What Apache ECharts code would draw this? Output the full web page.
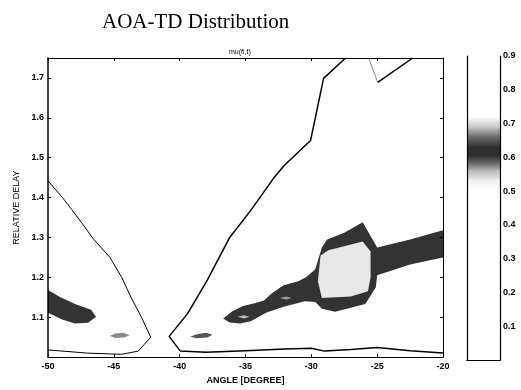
<!DOCTYPE html>
<html><head><meta charset="utf-8">
<script src="https://cdn.jsdelivr.net/npm/echarts@6/dist/echarts.min.js"></script>
<style>html,body{margin:0;padding:0;background:#fff}#c{width:521px;height:390px}</style>
</head><body><div id="c"></div><script>
// ---- data (angle [deg], relative delay) ----
const titleText = 'AOA-TD Distribution';
const subTitle = 'mu(fi,t)';
const xLabel = 'ANGLE [DEGREE]';
const yLabel = 'RELATIVE DELAY';
const angleRange = [-50, -20];
const delayRange = [1.0, 1.75];
const colorbarRange = [0, 0.9];

// thin low-level contour lines
const leftContour = [[-50,1.442],[-48.9,1.40],[-48.2,1.37],[-47.4,1.335],[-46.6,1.298],[-45.3,1.25],[-44.4,1.20],[-43.7,1.15],[-42.9,1.10],[-42.2,1.05],[-43.15,1.015],[-44.4,1.007],[-47,1.01],[-50,1.018]];
const rightContour = [[-27.4,1.75],[-29.07,1.699],[-30.06,1.543],[-32.1,1.479],[-32.9,1.447],[-34.6,1.368],[-36.2,1.30],[-37.9,1.193],[-39.4,1.109],[-40.8,1.052],[-39.95,1.015],[-38,1.012],[-35,1.016],[-32,1.02],[-30,1.022],[-29,1.015],[-27,1.019],[-25,1.024],[-22.5,1.016],[-20,1.01]];
const topVLeft = [[-25.65,1.75],[-24.96,1.689]];
const topVRight = [[-24.96,1.689],[-22.3,1.75]];

// dense (dark) regions around level ~0.6
const darkBand = [[-36.7,1.097],[-36.0,1.115],[-35.2,1.128],[-34.3,1.135],[-33.6,1.142],[-33.0,1.16],[-32.1,1.18],[-31.0,1.19],[-30.4,1.20],[-29.7,1.22],[-29.2,1.275],[-28.8,1.295],[-27.5,1.312],[-26.1,1.338],[-25.0,1.275],[-22.5,1.295],[-20,1.318],[-20,1.25],[-22.5,1.232],[-25.0,1.205],[-25.1,1.175],[-25.9,1.133],[-28.2,1.114],[-29.2,1.121],[-29.7,1.138],[-30.5,1.14],[-32.1,1.126],[-33.4,1.112],[-34.6,1.09],[-35.4,1.084],[-36.2,1.087]];
const hexInner = [[-29.3,1.255],[-28.7,1.268],[-26.1,1.29],[-25.5,1.265],[-25.5,1.2],[-25.7,1.165],[-27.0,1.152],[-29.2,1.148],[-29.5,1.19]];
const leftBlob = [[-50,1.168],[-49.09,1.151],[-47.95,1.133],[-46.73,1.119],[-46.35,1.101],[-46.96,1.086],[-47.95,1.084],[-48.93,1.094],[-50,1.111]];
const smallBlobA = [[-45.3,1.053],[-44.9,1.059],[-44.3,1.061],[-43.8,1.055],[-44.2,1.049],[-44.9,1.048]];
const smallBlobB = [[-39.2,1.051],[-38.7,1.057],[-38.0,1.061],[-37.5,1.056],[-37.9,1.049],[-38.7,1.047]];
const lightSpotA = [[-35.6,1.101],[-35.1,1.105],[-34.7,1.101],[-35.1,1.097]];
const lightSpotB = [[-32.4,1.148],[-31.9,1.152],[-31.5,1.148],[-31.9,1.144]];

// colour scale (value -> gray)
const cbStops = [0.50, 0.53, 0.56, 0.58, 0.605, 0.63, 0.66, 0.69, 0.72, 0.9];
const cbGrays = ['#ffffff','#f0f0f0','#b8b8b8','#707070','#2e2e2e','#303030','#6a6a6a','#c8c8c8','#ffffff','#ffffff'];

// ---- chart ----
const chart = echarts.init(document.getElementById('c'));
const font = "'Liberation Sans', Arial, sans-serif";

function polySeries(pts, fill, z) {
  return {
    type: 'custom', xAxisIndex: 0, yAxisIndex: 0, z: z, silent: true, clip: true,
    data: pts,
    renderItem: function (params, api) {
      if (params.dataIndex !== 0) return;
      return { type: 'polygon', shape: { points: pts.map(p => api.coord(p)) }, style: { fill: fill } };
    }
  };
}
function lineSeries(pts, color, width) {
  return { type: 'line', xAxisIndex: 0, yAxisIndex: 0, data: pts, showSymbol: false, silent: true, z: 5,
    lineStyle: { color: color, width: width } };
}

const cbGradient = new echarts.graphic.LinearGradient(0, 0, 0, 1,
  cbStops.map((v, i) => ({ offset: (colorbarRange[1] - v) / (colorbarRange[1] - colorbarRange[0]), color: cbGrays[i] })).reverse());

const lbl = { color: '#000', fontFamily: font, fontSize: 9, fontWeight: 'bold' };

chart.setOption({
  animation: false,
  backgroundColor: '#fff',
  title: [
    { text: titleText, left: 97, top: 7, textStyle: { fontFamily: "'Liberation Serif','Times New Roman',serif", fontSize: 21, fontWeight: 'normal', color: '#000' } },
    { text: subTitle, left: 224, top: 44, textStyle: { fontFamily: font, fontSize: 7, fontWeight: 'normal', color: '#000' } }
  ],
  grid: [
    { left: 48, right: 78, top: 58, bottom: 30 },
    { left: 467, right: 21, top: 56, bottom: 30 }
  ],
  xAxis: [
    { type: 'value', gridIndex: 0, z: 10, min: angleRange[0], max: angleRange[1], interval: 5,
      name: xLabel, nameLocation: 'middle', nameGap: 16, nameTextStyle: lbl,
      axisLine: { show: true, onZero: false, lineStyle: { color: '#000', width: 1.2 } },
      axisTick: { inside: true, length: 3, lineStyle: { color: '#000' } },
      axisLabel: Object.assign({ margin: 5 }, lbl), splitLine: { show: false } },
    { type: 'value', gridIndex: 0, z: 10, position: 'top', min: angleRange[0], max: angleRange[1], interval: 5,
      axisLine: { show: true, onZero: false, lineStyle: { color: '#000', width: 1 } },
      axisTick: { inside: true, length: 3, lineStyle: { color: '#000' } },
      axisLabel: { show: false }, splitLine: { show: false } },
    { type: 'category', gridIndex: 1, z: 10, data: ['c'], show: true,
      axisLine: { show: true, lineStyle: { color: '#000', width: 1.2 } }, axisTick: { show: false }, axisLabel: { show: false } },
    { type: 'category', gridIndex: 1, z: 10, data: ['c'], position: 'top', show: true,
      axisLine: { show: true, lineStyle: { color: '#000', width: 1.2 } }, axisTick: { show: false }, axisLabel: { show: false } }
  ],
  yAxis: [
    { type: 'value', gridIndex: 0, z: 10, min: delayRange[0], max: delayRange[1], interval: 0.1,
      name: yLabel, nameLocation: 'middle', nameGap: 23, nameTextStyle: Object.assign({}, lbl, { fontWeight: 'normal', fontSize: 9 }),
      axisLine: { show: true, onZero: false, lineStyle: { color: '#000', width: 1.5 } },
      axisTick: { inside: true, length: 3, lineStyle: { color: '#000' } },
      axisLabel: Object.assign({ margin: 4, showMinLabel: false, showMaxLabel: false, formatter: v => v.toFixed(1) }, lbl),
      splitLine: { show: false } },
    { type: 'value', gridIndex: 0, z: 10, position: 'right', min: delayRange[0], max: delayRange[1], interval: 0.1,
      axisLine: { show: true, onZero: false, lineStyle: { color: '#000', width: 1 } },
      axisTick: { inside: true, length: 3, lineStyle: { color: '#000' } },
      axisLabel: { show: false }, splitLine: { show: false } },
    { type: 'value', gridIndex: 1, z: 10, position: 'right', min: colorbarRange[0], max: colorbarRange[1], interval: 0.1,
      axisLine: { show: true, onZero: false, lineStyle: { color: '#000', width: 1.2 } },
      axisTick: { inside: true, length: 3, lineStyle: { color: '#000' } },
      axisLabel: Object.assign({ margin: 3, showMinLabel: false, formatter: v => v.toFixed(1) }, lbl),
      splitLine: { show: false } },
    { type: 'value', gridIndex: 1, z: 10, position: 'left', min: colorbarRange[0], max: colorbarRange[1], interval: 0.1,
      axisLine: { show: true, onZero: false, lineStyle: { color: '#000', width: 1.2 } },
      axisTick: { show: false }, axisLabel: { show: false }, splitLine: { show: false } }
  ],
  series: [
    polySeries(leftBlob, '#333333', 2),
    polySeries(smallBlobA, '#8a8a8a', 2),
    polySeries(smallBlobB, '#555555', 2),
    polySeries(darkBand, '#333333', 2),
    polySeries(hexInner, '#e8e8e8', 3),
    polySeries(lightSpotA, '#bdbdbd', 3),
    polySeries(lightSpotB, '#9a9a9a', 3),
    lineSeries(leftContour, '#000', 1),
    lineSeries(rightContour, '#000', 1.5),
    lineSeries(topVLeft, '#888', 1),
    lineSeries(topVRight, '#000', 1.5),
    { type: 'bar', xAxisIndex: 2, yAxisIndex: 2, data: [colorbarRange[1]], barWidth: '100%', silent: true, z: 1,
      itemStyle: { color: cbGradient } }
  ]
});
</script></body></html>
